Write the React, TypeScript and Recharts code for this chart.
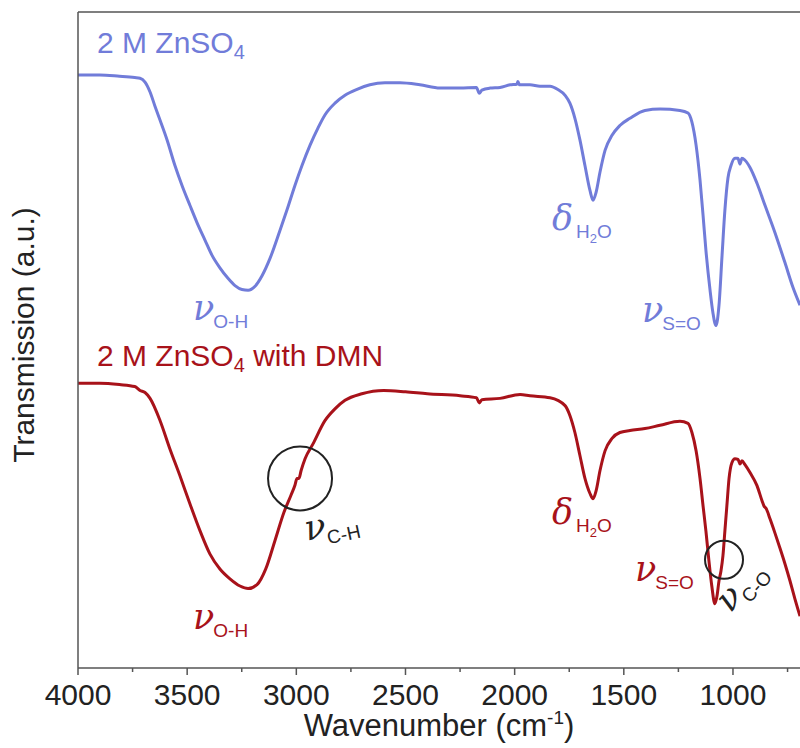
import { LineChart, Line, XAxis, YAxis, ReferenceDot, ReferenceLine } from 'recharts'

// wavenumber (cm-1) and transmission (a.u.)
const pureWn = [4000, 3900, 3810, 3740, 3716, 3693, 3670, 3647, 3624, 3592, 3556, 3524, 3487, 3455, 3418, 3386, 3350, 3313, 3281, 3249, 3221, 3189, 3157, 3121, 3075, 3043, 3006, 2974, 2937, 2901, 2869, 2823, 2777, 2722, 2663, 2594, 2525, 2434, 2342, 2250, 2175, 2162, 2150, 2113, 2067, 2021, 1990, 1985, 1978, 1930, 1884, 1838, 1802, 1769, 1747, 1724, 1701, 1678, 1655, 1641, 1627, 1609, 1586, 1554, 1518, 1472, 1403, 1334, 1243, 1206, 1188, 1169, 1151, 1137, 1124, 1105, 1092, 1078, 1064, 1050, 1037, 1023, 1009, 991, 977, 968, 959, 945, 922, 890, 853, 808, 762, 725, 693]
const pureT = [90.4, 90.4, 90.2, 90.0, 89.9, 89.3, 87.8, 85.6, 83.5, 80.5, 76.6, 73.6, 70.5, 67.9, 65.2, 62.9, 61.0, 59.4, 58.3, 57.7, 57.6, 58.2, 59.8, 62.4, 66.7, 69.8, 73.6, 76.6, 79.7, 82.3, 84.3, 86.1, 87.3, 88.2, 88.9, 89.2, 89.2, 88.9, 88.4, 88.4, 88.5, 87.6, 88.1, 88.4, 88.5, 88.9, 89.0, 89.4, 88.9, 88.9, 88.7, 88.7, 88.2, 87.3, 86.1, 83.8, 80.5, 76.6, 72.8, 71.3, 72.5, 75.6, 78.9, 81.2, 82.7, 83.8, 85.0, 85.2, 85.0, 84.6, 83.2, 79.7, 74.4, 69.0, 63.7, 57.6, 54.2, 52.2, 55.3, 62.9, 69.8, 74.7, 76.6, 77.7, 77.7, 76.8, 77.7, 77.4, 76.3, 73.9, 70.5, 66.4, 61.8, 58.0, 55.3]

const dmnWn = [4000, 3900, 3810, 3740, 3716, 3693, 3670, 3624, 3579, 3533, 3487, 3441, 3396, 3350, 3304, 3258, 3221, 3180, 3140, 3098, 3057, 3025, 3006, 2997, 2988, 2978, 2960, 2923, 2869, 2823, 2777, 2700, 2600, 2500, 2400, 2250, 2175, 2162, 2150, 2067, 1975, 1930, 1838, 1769, 1747, 1724, 1701, 1678, 1655, 1641, 1627, 1609, 1586, 1554, 1518, 1472, 1403, 1334, 1243, 1206, 1188, 1169, 1151, 1137, 1124, 1110, 1097, 1083, 1073, 1064, 1055, 1046, 1037, 1028, 1018, 1005, 991, 977, 968, 959, 945, 922, 890, 867, 858, 848, 830, 808, 785, 762, 739, 716, 693]
const dmnT = [43.4, 43.4, 43.2, 42.9, 42.3, 42.0, 41.1, 37.7, 33.4, 29.3, 25.0, 20.9, 17.4, 15.1, 13.6, 12.5, 12.1, 12.7, 15.1, 19.4, 23.7, 26.3, 27.9, 28.9, 28.9, 30.1, 31.9, 34.2, 37.7, 39.5, 40.8, 41.8, 42.3, 42.1, 41.8, 41.5, 41.2, 40.4, 40.9, 41.1, 41.7, 41.5, 41.2, 40.0, 38.5, 35.9, 32.4, 28.9, 26.6, 25.8, 27.0, 30.1, 33.1, 35.0, 35.9, 36.2, 36.5, 37.0, 37.6, 37.3, 35.9, 33.1, 28.9, 24.7, 20.9, 16.3, 12.5, 9.8, 11.0, 13.3, 14.8, 17.1, 20.9, 24.7, 28.9, 31.3, 31.9, 31.8, 31.1, 31.6, 31.0, 29.8, 27.8, 25.5, 24.7, 24.3, 22.7, 20.6, 18.3, 15.9, 13.3, 10.5, 7.9]

const xTicks = [4000, 3750, 3500, 3250, 3000, 2750, 2500, 2250, 2000, 1750, 1500, 1250, 1000, 750]

// peak annotations: [wavenumber, transmission, symbol, subscript]
const pureNotes: [number, number, string, string][] = [
  [3473, 53.0, 'ν', 'O-H'],
  [1829, 66.7, 'δ', 'H2O'],
  [1417, 52.7, 'ν', 'S=O'],
]
const dmnNotes: [number, number, string, string][] = [
  [3473, 6.0, 'ν', 'O-H'],
  [1829, 22.0, 'δ', 'H2O'],
  [1449, 13.3, 'ν', 'S=O'],
]
const extraNotes: [number, number, string, string, number][] = [
  [2951, 19.4, 'ν', 'C-H', -12],
  [1012, 8.3, 'ν', 'C-O', -48],
]
// circled features: [wavenumber, transmission, radius]
const circles: [number, number, number][] = [
  [2983, 28.9, 32],
  [1041, 16.5, 19],
]

const BLUE = '#717cd9'
const RED = '#a8121a'
const SANS = '"Liberation Sans", Arial, sans-serif'

const pureData = pureWn.map((wn, i) => ({ wn, t: pureT[i] }))
const dmnData = dmnWn.map((wn, i) => ({ wn, t: dmnT[i] }))

function Sub({ text }: { text: string }) {
  if (text === 'H2O') {
    return (
      <>
        <tspan>H</tspan>
        <tspan fontSize={13} dy={5}>2</tspan>
        <tspan dy={-5}>O</tspan>
      </>
    )
  }
  return <tspan>{text}</tspan>
}

function PeakLabel(props: any) {
  const { cx, cy, sym, sub, color, angle } = props
  return (
    <text x={cx} y={cy} fill={color} transform={angle ? `rotate(${angle} ${cx} ${cy})` : undefined}>
      <tspan fontFamily='"DejaVu Serif", serif' fontStyle="italic" fontSize={35}>{sym}</tspan>
      <tspan fontFamily={SANS} fontSize={19} dx={sym === 'δ' ? 3 : -1} dy={8}>
        <Sub text={sub} />
      </tspan>
    </text>
  )
}

function SeriesTitle(props: any) {
  const { cx, cy, color, extra } = props
  return (
    <text x={cx} y={cy} fill={color} fontFamily={SANS} fontSize={30}>
      2 M ZnSO<tspan fontSize={20} dy={6}>4</tspan>
      {extra ? <tspan dy={-6}>{extra}</tspan> : null}
    </text>
  )
}

function WnTick(props: any) {
  const { x, y, payload } = props
  const major = payload.value % 500 === 0
  return (
    <g>
      <line x1={x} x2={x} y1={y} y2={y + (major ? 7 : 4)} stroke="#555" strokeWidth={1.5} />
      {major && (
        <text x={x} y={y + 37} textAnchor="middle" fontSize={30} fill="#222" fontFamily={SANS}>
          {payload.value}
        </text>
      )}
    </g>
  )
}

export default function App() {
  return (
    <div style={{ position: 'absolute', top: 0, left: 0, width: 800, height: 748, background: '#fff' }}>
      <LineChart width={800} height={748} margin={{ top: 12, right: 0, left: 0, bottom: 0 }}>
        <XAxis
          dataKey="wn"
          type="number"
          domain={[693, 4000]}
          reversed
          allowDataOverflow
          ticks={xTicks}
          interval={0}
          tickLine={false}
          tickSize={0}
          tickMargin={0}
          tick={<WnTick />}
          height={80}
          axisLine={{ stroke: '#555', strokeWidth: 1.5 }}
          label={{
            content: () => (
              <text x={439} y={736} textAnchor="middle" fontSize={31} fill="#222" fontFamily={SANS}>
                Wavenumber (cm<tspan fontSize={19} dy={-12}>-1</tspan>
                <tspan dy={12}>)</tspan>
              </text>
            ),
          }}
        />
        <YAxis
          type="number"
          domain={[0, 100]}
          width={78}
          tick={false}
          tickLine={false}
          axisLine={{ stroke: '#555', strokeWidth: 1.5 }}
          label={{
            content: () => (
              <text x={34} y={335} textAnchor="middle" fontSize={30} fill="#222" fontFamily={SANS}
                transform="rotate(-90 34 335)">
                Transmission (a.u.)
              </text>
            ),
          }}
        />
        <ReferenceLine y={100} stroke="#555" strokeWidth={1.5} />
        <Line data={pureData} dataKey="t" type="monotone" stroke={BLUE} strokeWidth={3} dot={false} isAnimationActive={false} />
        <Line data={dmnData} dataKey="t" type="monotone" stroke={RED} strokeWidth={3} dot={false} isAnimationActive={false} />

        <ReferenceDot x={3913} y={93.7} r={0} shape={(p: any) => <SeriesTitle {...p} color={BLUE} />} />
        <ReferenceDot x={3913} y={46.1} r={0} shape={(p: any) => <SeriesTitle {...p} color={RED} extra=" with DMN" />} />

        {pureNotes.map(([wn, t, sym, sub]) => (
          <ReferenceDot key={'p' + wn} x={wn} y={t} r={0}
            shape={(p: any) => <PeakLabel {...p} sym={sym} sub={sub} color={BLUE} />} />
        ))}
        {dmnNotes.map(([wn, t, sym, sub]) => (
          <ReferenceDot key={'d' + wn} x={wn} y={t} r={0}
            shape={(p: any) => <PeakLabel {...p} sym={sym} sub={sub} color={RED} />} />
        ))}
        {extraNotes.map(([wn, t, sym, sub, angle]) => (
          <ReferenceDot key={'e' + wn} x={wn} y={t} r={0}
            shape={(p: any) => <PeakLabel {...p} sym={sym} sub={sub} color="#222" angle={angle} />} />
        ))}
        {circles.map(([wn, t, r]) => (
          <ReferenceDot key={'c' + wn} x={wn} y={t} r={r} fill="none" stroke="#222" strokeWidth={2} />
        ))}
      </LineChart>
    </div>
  )
}
